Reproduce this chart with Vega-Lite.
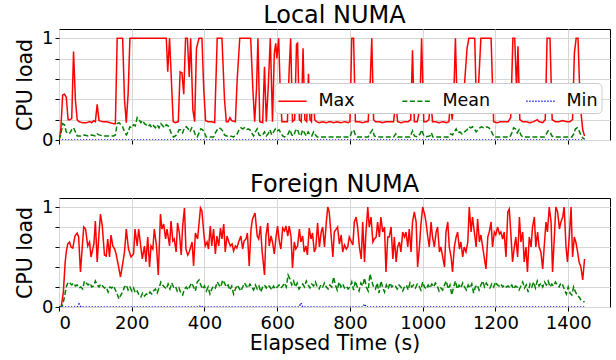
{
"$schema": "https://vega.github.io/schema/vega-lite/v6.json",
"padding": {"left": 15, "top": 3, "right": 5, "bottom": 0},
"config": {
 "font": "DejaVu Sans",
 "view": {"stroke": "#000", "strokeWidth": 1},
 "axis": {"grid": true, "gridColor": "#d6d6d6", "gridWidth": 1, "domain": false, "tickColor": "#000", "tickSize": 4, "labelColor": "#000", "titleColor": "#000", "labelFontSize": 18, "titleFontSize": 20.5, "titleFontWeight": "normal", "labelFont": "DejaVu Sans", "titleFont": "DejaVu Sans"},
 "title": {"fontSize": 24, "fontWeight": "normal", "color": "#000", "font": "DejaVu Sans", "offset": 1}
},
"datasets": {
"L": [
{"s":"Max","t":0,"v":0},{"s":"Max","t":5,"v":0.1},{"s":"Max","t":10,"v":0.44},{"s":"Max","t":15,"v":0.45},{"s":"Max","t":20,"v":0.42},{"s":"Max","t":25,"v":0.2},{"s":"Max","t":30,"v":0.2},{"s":"Max","t":35,"v":0.21},{"s":"Max","t":40,"v":0.87},{"s":"Max","t":45,"v":0.4},{"s":"Max","t":50,"v":0.2},{"s":"Max","t":55,"v":0.18},{"s":"Max","t":65,"v":0.17},{"s":"Max","t":75,"v":0.17},{"s":"Max","t":85,"v":0.18},{"s":"Max","t":90,"v":0.17},{"s":"Max","t":95,"v":0.19},{"s":"Max","t":100,"v":0.18},{"s":"Max","t":105,"v":0.35},{"s":"Max","t":110,"v":0.19},{"s":"Max","t":120,"v":0.18},{"s":"Max","t":130,"v":0.18},{"s":"Max","t":140,"v":0.17},{"s":"Max","t":150,"v":0.16},{"s":"Max","t":155,"v":0.16},{"s":"Max","t":160,"v":1},{"s":"Max","t":175,"v":1},{"s":"Max","t":180,"v":0.4},{"s":"Max","t":185,"v":0.17},{"s":"Max","t":190,"v":0.45},{"s":"Max","t":195,"v":1},{"s":"Max","t":295,"v":1},{"s":"Max","t":299,"v":0.67},{"s":"Max","t":304,"v":1},{"s":"Max","t":314,"v":0.18},{"s":"Max","t":320,"v":0.17},{"s":"Max","t":328,"v":0.18},{"s":"Max","t":333,"v":0.67},{"s":"Max","t":338,"v":0.66},{"s":"Max","t":343,"v":0.45},{"s":"Max","t":348,"v":1},{"s":"Max","t":353,"v":1},{"s":"Max","t":358,"v":0.62},{"s":"Max","t":362,"v":1},{"s":"Max","t":368,"v":0.3},{"s":"Max","t":373,"v":0.18},{"s":"Max","t":378,"v":0.9},{"s":"Max","t":385,"v":1},{"s":"Max","t":393,"v":1},{"s":"Max","t":398,"v":0.5},{"s":"Max","t":403,"v":0.19},{"s":"Max","t":410,"v":0.18},{"s":"Max","t":420,"v":0.18},{"s":"Max","t":428,"v":0.17},{"s":"Max","t":435,"v":1},{"s":"Max","t":448,"v":1},{"s":"Max","t":455,"v":0.4},{"s":"Max","t":460,"v":0.18},{"s":"Max","t":465,"v":0.18},{"s":"Max","t":470,"v":0.22},{"s":"Max","t":475,"v":0.19},{"s":"Max","t":485,"v":0.18},{"s":"Max","t":490,"v":0.6},{"s":"Max","t":497,"v":1},{"s":"Max","t":527,"v":1},{"s":"Max","t":533,"v":0.5},{"s":"Max","t":538,"v":0.18},{"s":"Max","t":543,"v":0.5},{"s":"Max","t":547,"v":1},{"s":"Max","t":552,"v":0.18},{"s":"Max","t":560,"v":0.17},{"s":"Max","t":565,"v":0.72},{"s":"Max","t":570,"v":0.18},{"s":"Max","t":575,"v":0.5},{"s":"Max","t":581,"v":1},{"s":"Max","t":587,"v":0.18},{"s":"Max","t":592,"v":0.85},{"s":"Max","t":596,"v":0.95},{"s":"Max","t":599,"v":0.8},{"s":"Max","t":604,"v":1},{"s":"Max","t":609,"v":0.4},{"s":"Max","t":613,"v":0.18},{"s":"Max","t":620,"v":0.18},{"s":"Max","t":628,"v":0.18},{"s":"Max","t":633,"v":0.7},{"s":"Max","t":637,"v":1},{"s":"Max","t":642,"v":0.18},{"s":"Max","t":648,"v":0.2},{"s":"Max","t":653,"v":0.94},{"s":"Max","t":656,"v":0.95},{"s":"Max","t":661,"v":0.2},{"s":"Max","t":666,"v":0.18},{"s":"Max","t":671,"v":0.9},{"s":"Max","t":676,"v":0.2},{"s":"Max","t":681,"v":0.18},{"s":"Max","t":686,"v":0.65},{"s":"Max","t":690,"v":0.2},{"s":"Max","t":694,"v":0.18},{"s":"Max","t":698,"v":0.55},{"s":"Max","t":703,"v":0.2},{"s":"Max","t":708,"v":0.18},{"s":"Max","t":715,"v":0.17},{"s":"Max","t":725,"v":0.18},{"s":"Max","t":735,"v":0.17},{"s":"Max","t":745,"v":0.18},{"s":"Max","t":755,"v":0.17},{"s":"Max","t":765,"v":0.18},{"s":"Max","t":775,"v":0.17},{"s":"Max","t":785,"v":0.18},{"s":"Max","t":795,"v":0.17},{"s":"Max","t":800,"v":0.18},{"s":"Max","t":805,"v":1},{"s":"Max","t":810,"v":1},{"s":"Max","t":815,"v":0.18},{"s":"Max","t":825,"v":0.18},{"s":"Max","t":835,"v":0.17},{"s":"Max","t":845,"v":0.18},{"s":"Max","t":850,"v":0.18},{"s":"Max","t":855,"v":0.5},{"s":"Max","t":860,"v":1},{"s":"Max","t":865,"v":0.2},{"s":"Max","t":870,"v":0.18},{"s":"Max","t":880,"v":0.18},{"s":"Max","t":890,"v":0.17},{"s":"Max","t":900,"v":0.18},{"s":"Max","t":910,"v":0.18},{"s":"Max","t":920,"v":0.18},{"s":"Max","t":926,"v":0.38},{"s":"Max","t":931,"v":0.18},{"s":"Max","t":940,"v":0.17},{"s":"Max","t":950,"v":0.18},{"s":"Max","t":960,"v":0.18},{"s":"Max","t":967,"v":0.2},{"s":"Max","t":972,"v":0.88},{"s":"Max","t":977,"v":0.18},{"s":"Max","t":985,"v":0.18},{"s":"Max","t":992,"v":0.3},{"s":"Max","t":997,"v":1},{"s":"Max","t":1003,"v":0.18},{"s":"Max","t":1010,"v":0.18},{"s":"Max","t":1017,"v":0.2},{"s":"Max","t":1022,"v":0.4},{"s":"Max","t":1027,"v":0.18},{"s":"Max","t":1035,"v":0.18},{"s":"Max","t":1045,"v":0.17},{"s":"Max","t":1055,"v":0.18},{"s":"Max","t":1065,"v":0.17},{"s":"Max","t":1072,"v":0.18},{"s":"Max","t":1077,"v":0.38},{"s":"Max","t":1081,"v":0.2},{"s":"Max","t":1085,"v":0.37},{"s":"Max","t":1090,"v":1},{"s":"Max","t":1095,"v":0.3},{"s":"Max","t":1100,"v":0.4},{"s":"Max","t":1107,"v":0.5},{"s":"Max","t":1115,"v":0.55},{"s":"Max","t":1122,"v":0.9},{"s":"Max","t":1127,"v":1},{"s":"Max","t":1143,"v":1},{"s":"Max","t":1148,"v":0.3},{"s":"Max","t":1153,"v":0.5},{"s":"Max","t":1160,"v":1},{"s":"Max","t":1188,"v":1},{"s":"Max","t":1195,"v":0.18},{"s":"Max","t":1205,"v":0.17},{"s":"Max","t":1215,"v":0.18},{"s":"Max","t":1225,"v":0.18},{"s":"Max","t":1235,"v":0.18},{"s":"Max","t":1242,"v":0.22},{"s":"Max","t":1248,"v":1},{"s":"Max","t":1253,"v":1},{"s":"Max","t":1258,"v":0.5},{"s":"Max","t":1262,"v":0.92},{"s":"Max","t":1267,"v":0.2},{"s":"Max","t":1275,"v":0.18},{"s":"Max","t":1285,"v":0.18},{"s":"Max","t":1295,"v":0.17},{"s":"Max","t":1305,"v":0.18},{"s":"Max","t":1315,"v":0.2},{"s":"Max","t":1320,"v":0.18},{"s":"Max","t":1330,"v":0.17},{"s":"Max","t":1337,"v":0.2},{"s":"Max","t":1342,"v":1},{"s":"Max","t":1350,"v":1},{"s":"Max","t":1356,"v":0.2},{"s":"Max","t":1365,"v":0.18},{"s":"Max","t":1375,"v":0.18},{"s":"Max","t":1385,"v":0.19},{"s":"Max","t":1395,"v":0.18},{"s":"Max","t":1405,"v":0.18},{"s":"Max","t":1412,"v":0.2},{"s":"Max","t":1417,"v":0.85},{"s":"Max","t":1422,"v":1},{"s":"Max","t":1427,"v":1},{"s":"Max","t":1433,"v":0.35},{"s":"Max","t":1440,"v":0.1},{"s":"Max","t":1445,"v":0.04},
{"s":"Mean","t":0,"v":0},{"s":"Mean","t":5,"v":0.05},{"s":"Mean","t":10,"v":0.16},{"s":"Mean","t":15,"v":0.15},{"s":"Mean","t":20,"v":0.08},{"s":"Mean","t":25,"v":0.06},{"s":"Mean","t":30,"v":0.07},{"s":"Mean","t":35,"v":0.1},{"s":"Mean","t":40,"v":0.12},{"s":"Mean","t":45,"v":0.08},{"s":"Mean","t":50,"v":0.04},{"s":"Mean","t":60,"v":0.04},{"s":"Mean","t":70,"v":0.05},{"s":"Mean","t":80,"v":0.04},{"s":"Mean","t":90,"v":0.05},{"s":"Mean","t":100,"v":0.04},{"s":"Mean","t":105,"v":0.06},{"s":"Mean","t":110,"v":0.05},{"s":"Mean","t":120,"v":0.04},{"s":"Mean","t":130,"v":0.04},{"s":"Mean","t":140,"v":0.04},{"s":"Mean","t":150,"v":0.04},{"s":"Mean","t":155,"v":0.05},{"s":"Mean","t":160,"v":0.16},{"s":"Mean","t":165,"v":0.17},{"s":"Mean","t":170,"v":0.15},{"s":"Mean","t":175,"v":0.13},{"s":"Mean","t":180,"v":0.08},{"s":"Mean","t":185,"v":0.05},{"s":"Mean","t":190,"v":0.08},{"s":"Mean","t":195,"v":0.13},{"s":"Mean","t":200,"v":0.12},{"s":"Mean","t":205,"v":0.15},{"s":"Mean","t":210,"v":0.14},{"s":"Mean","t":215,"v":0.22},{"s":"Mean","t":220,"v":0.2},{"s":"Mean","t":225,"v":0.17},{"s":"Mean","t":230,"v":0.19},{"s":"Mean","t":235,"v":0.16},{"s":"Mean","t":240,"v":0.15},{"s":"Mean","t":245,"v":0.13},{"s":"Mean","t":250,"v":0.15},{"s":"Mean","t":255,"v":0.12},{"s":"Mean","t":260,"v":0.14},{"s":"Mean","t":265,"v":0.12},{"s":"Mean","t":270,"v":0.15},{"s":"Mean","t":275,"v":0.12},{"s":"Mean","t":280,"v":0.16},{"s":"Mean","t":285,"v":0.14},{"s":"Mean","t":290,"v":0.12},{"s":"Mean","t":295,"v":0.15},{"s":"Mean","t":300,"v":0.14},{"s":"Mean","t":305,"v":0.1},{"s":"Mean","t":310,"v":0.05},{"s":"Mean","t":315,"v":0.03},{"s":"Mean","t":320,"v":0.04},{"s":"Mean","t":325,"v":0.06},{"s":"Mean","t":330,"v":0.1},{"s":"Mean","t":335,"v":0.1},{"s":"Mean","t":340,"v":0.07},{"s":"Mean","t":345,"v":0.12},{"s":"Mean","t":350,"v":0.13},{"s":"Mean","t":355,"v":0.11},{"s":"Mean","t":360,"v":0.08},{"s":"Mean","t":365,"v":0.12},{"s":"Mean","t":370,"v":0.1},{"s":"Mean","t":375,"v":0.05},{"s":"Mean","t":380,"v":0.03},{"s":"Mean","t":385,"v":0.07},{"s":"Mean","t":390,"v":0.11},{"s":"Mean","t":395,"v":0.1},{"s":"Mean","t":400,"v":0.07},{"s":"Mean","t":405,"v":0.03},{"s":"Mean","t":415,"v":0.03},{"s":"Mean","t":425,"v":0.03},{"s":"Mean","t":430,"v":0.07},{"s":"Mean","t":435,"v":0.1},{"s":"Mean","t":440,"v":0.12},{"s":"Mean","t":445,"v":0.11},{"s":"Mean","t":450,"v":0.09},{"s":"Mean","t":455,"v":0.05},{"s":"Mean","t":460,"v":0.04},{"s":"Mean","t":470,"v":0.04},{"s":"Mean","t":480,"v":0.03},{"s":"Mean","t":490,"v":0.06},{"s":"Mean","t":495,"v":0.1},{"s":"Mean","t":500,"v":0.12},{"s":"Mean","t":505,"v":0.11},{"s":"Mean","t":510,"v":0.12},{"s":"Mean","t":515,"v":0.1},{"s":"Mean","t":520,"v":0.11},{"s":"Mean","t":525,"v":0.1},{"s":"Mean","t":530,"v":0.07},{"s":"Mean","t":535,"v":0.04},{"s":"Mean","t":540,"v":0.08},{"s":"Mean","t":545,"v":0.11},{"s":"Mean","t":550,"v":0.05},{"s":"Mean","t":555,"v":0.04},{"s":"Mean","t":560,"v":0.05},{"s":"Mean","t":565,"v":0.08},{"s":"Mean","t":570,"v":0.04},{"s":"Mean","t":575,"v":0.06},{"s":"Mean","t":580,"v":0.1},{"s":"Mean","t":585,"v":0.05},{"s":"Mean","t":590,"v":0.08},{"s":"Mean","t":595,"v":0.11},{"s":"Mean","t":600,"v":0.09},{"s":"Mean","t":605,"v":0.1},{"s":"Mean","t":610,"v":0.07},{"s":"Mean","t":615,"v":0.04},{"s":"Mean","t":620,"v":0.03},{"s":"Mean","t":625,"v":0.04},{"s":"Mean","t":630,"v":0.06},{"s":"Mean","t":635,"v":0.1},{"s":"Mean","t":640,"v":0.05},{"s":"Mean","t":645,"v":0.04},{"s":"Mean","t":650,"v":0.09},{"s":"Mean","t":655,"v":0.11},{"s":"Mean","t":660,"v":0.06},{"s":"Mean","t":665,"v":0.04},{"s":"Mean","t":670,"v":0.1},{"s":"Mean","t":675,"v":0.07},{"s":"Mean","t":680,"v":0.04},{"s":"Mean","t":685,"v":0.08},{"s":"Mean","t":690,"v":0.05},{"s":"Mean","t":695,"v":0.04},{"s":"Mean","t":700,"v":0.08},{"s":"Mean","t":705,"v":0.05},{"s":"Mean","t":710,"v":0.03},{"s":"Mean","t":760,"v":0.03},{"s":"Mean","t":800,"v":0.03},{"s":"Mean","t":805,"v":0.08},{"s":"Mean","t":810,"v":0.1},{"s":"Mean","t":815,"v":0.05},{"s":"Mean","t":820,"v":0.03},{"s":"Mean","t":850,"v":0.03},{"s":"Mean","t":858,"v":0.08},{"s":"Mean","t":862,"v":0.1},{"s":"Mean","t":867,"v":0.04},{"s":"Mean","t":875,"v":0.03},{"s":"Mean","t":920,"v":0.03},{"s":"Mean","t":926,"v":0.06},{"s":"Mean","t":931,"v":0.03},{"s":"Mean","t":965,"v":0.03},{"s":"Mean","t":972,"v":0.09},{"s":"Mean","t":977,"v":0.04},{"s":"Mean","t":985,"v":0.03},{"s":"Mean","t":993,"v":0.06},{"s":"Mean","t":997,"v":0.1},{"s":"Mean","t":1002,"v":0.05},{"s":"Mean","t":1008,"v":0.03},{"s":"Mean","t":1020,"v":0.04},{"s":"Mean","t":1024,"v":0.07},{"s":"Mean","t":1028,"v":0.03},{"s":"Mean","t":1070,"v":0.03},{"s":"Mean","t":1077,"v":0.06},{"s":"Mean","t":1082,"v":0.05},{"s":"Mean","t":1087,"v":0.08},{"s":"Mean","t":1092,"v":0.11},{"s":"Mean","t":1097,"v":0.07},{"s":"Mean","t":1102,"v":0.08},{"s":"Mean","t":1108,"v":0.06},{"s":"Mean","t":1115,"v":0.08},{"s":"Mean","t":1122,"v":0.1},{"s":"Mean","t":1127,"v":0.13},{"s":"Mean","t":1132,"v":0.12},{"s":"Mean","t":1137,"v":0.13},{"s":"Mean","t":1142,"v":0.11},{"s":"Mean","t":1147,"v":0.08},{"s":"Mean","t":1152,"v":0.1},{"s":"Mean","t":1157,"v":0.12},{"s":"Mean","t":1162,"v":0.13},{"s":"Mean","t":1167,"v":0.12},{"s":"Mean","t":1172,"v":0.12},{"s":"Mean","t":1177,"v":0.13},{"s":"Mean","t":1182,"v":0.12},{"s":"Mean","t":1187,"v":0.1},{"s":"Mean","t":1192,"v":0.06},{"s":"Mean","t":1197,"v":0.03},{"s":"Mean","t":1240,"v":0.03},{"s":"Mean","t":1245,"v":0.07},{"s":"Mean","t":1250,"v":0.12},{"s":"Mean","t":1255,"v":0.11},{"s":"Mean","t":1260,"v":0.07},{"s":"Mean","t":1265,"v":0.1},{"s":"Mean","t":1270,"v":0.05},{"s":"Mean","t":1275,"v":0.03},{"s":"Mean","t":1335,"v":0.03},{"s":"Mean","t":1340,"v":0.06},{"s":"Mean","t":1345,"v":0.09},{"s":"Mean","t":1350,"v":0.08},{"s":"Mean","t":1355,"v":0.04},{"s":"Mean","t":1360,"v":0.03},{"s":"Mean","t":1410,"v":0.03},{"s":"Mean","t":1415,"v":0.06},{"s":"Mean","t":1420,"v":0.11},{"s":"Mean","t":1425,"v":0.12},{"s":"Mean","t":1430,"v":0.09},{"s":"Mean","t":1435,"v":0.05},{"s":"Mean","t":1440,"v":0.02},{"s":"Mean","t":1445,"v":0.01},
{"s":"Min","t":0,"v":0},{"s":"Min","t":1445,"v":0}
],
"F": [
{"s":"Max","t":0,"v":0},{"s":"Max","t":6,"v":0},{"s":"Max","t":12,"v":0.15},{"s":"Max","t":17,"v":0.45},{"s":"Max","t":20,"v":0.55},{"s":"Max","t":24,"v":0.63},{"s":"Max","t":29,"v":0.65},{"s":"Max","t":33,"v":0.6},{"s":"Max","t":38,"v":0.59},{"s":"Max","t":44,"v":0.71},{"s":"Max","t":50,"v":0.74},{"s":"Max","t":54,"v":0.7},{"s":"Max","t":59,"v":0.35},{"s":"Max","t":64,"v":0.6},{"s":"Max","t":68,"v":0.8},{"s":"Max","t":73,"v":0.78},{"s":"Max","t":79,"v":0.61},{"s":"Max","t":84,"v":0.65},{"s":"Max","t":88,"v":0.5},{"s":"Max","t":96,"v":0.63},{"s":"Max","t":100,"v":0.86},{"s":"Max","t":105,"v":0.45},{"s":"Max","t":110,"v":0.74},{"s":"Max","t":114,"v":0.93},{"s":"Max","t":119,"v":0.81},{"s":"Max","t":125,"v":0.52},{"s":"Max","t":130,"v":0.51},{"s":"Max","t":134,"v":0.68},{"s":"Max","t":139,"v":0.5},{"s":"Max","t":143,"v":0.72},{"s":"Max","t":148,"v":0.61},{"s":"Max","t":153,"v":0.58},{"s":"Max","t":157,"v":0.53},{"s":"Max","t":164,"v":0.4},{"s":"Max","t":169,"v":0.3},{"s":"Max","t":175,"v":0.43},{"s":"Max","t":180,"v":0.55},{"s":"Max","t":185,"v":0.78},{"s":"Max","t":191,"v":0.58},{"s":"Max","t":198,"v":0.5},{"s":"Max","t":205,"v":0.53},{"s":"Max","t":209,"v":0.78},{"s":"Max","t":215,"v":0.61},{"s":"Max","t":219,"v":0.78},{"s":"Max","t":224,"v":0.63},{"s":"Max","t":229,"v":0.48},{"s":"Max","t":235,"v":0.61},{"s":"Max","t":239,"v":0.45},{"s":"Max","t":244,"v":0.7},{"s":"Max","t":249,"v":0.4},{"s":"Max","t":253,"v":0.61},{"s":"Max","t":258,"v":0.58},{"s":"Max","t":262,"v":0.78},{"s":"Max","t":268,"v":0.61},{"s":"Max","t":273,"v":0.32},{"s":"Max","t":279,"v":0.93},{"s":"Max","t":283,"v":0.78},{"s":"Max","t":288,"v":0.83},{"s":"Max","t":293,"v":0.68},{"s":"Max","t":297,"v":0.78},{"s":"Max","t":304,"v":0.61},{"s":"Max","t":308,"v":0.86},{"s":"Max","t":313,"v":0.66},{"s":"Max","t":317,"v":0.68},{"s":"Max","t":322,"v":0.55},{"s":"Max","t":326,"v":0.84},{"s":"Max","t":331,"v":0.74},{"s":"Max","t":336,"v":0.52},{"s":"Max","t":340,"v":0.81},{"s":"Max","t":345,"v":0.99},{"s":"Max","t":349,"v":0.58},{"s":"Max","t":354,"v":0.52},{"s":"Max","t":358,"v":0.55},{"s":"Max","t":362,"v":0.6},{"s":"Max","t":366,"v":0.65},{"s":"Max","t":370,"v":0.41},{"s":"Max","t":375,"v":0.74},{"s":"Max","t":381,"v":0.68},{"s":"Max","t":389,"v":0.99},{"s":"Max","t":393,"v":0.96},{"s":"Max","t":398,"v":0.74},{"s":"Max","t":402,"v":0.61},{"s":"Max","t":407,"v":0.65},{"s":"Max","t":411,"v":0.58},{"s":"Max","t":416,"v":0.81},{"s":"Max","t":420,"v":0.61},{"s":"Max","t":425,"v":0.78},{"s":"Max","t":430,"v":0.53},{"s":"Max","t":434,"v":0.71},{"s":"Max","t":439,"v":0.61},{"s":"Max","t":444,"v":0.79},{"s":"Max","t":448,"v":0.68},{"s":"Max","t":453,"v":0.83},{"s":"Max","t":457,"v":0.55},{"s":"Max","t":462,"v":0.71},{"s":"Max","t":467,"v":0.65},{"s":"Max","t":471,"v":0.61},{"s":"Max","t":476,"v":0.63},{"s":"Max","t":480,"v":0.56},{"s":"Max","t":485,"v":0.61},{"s":"Max","t":489,"v":0.59},{"s":"Max","t":494,"v":0.65},{"s":"Max","t":500,"v":0.71},{"s":"Max","t":505,"v":0.58},{"s":"Max","t":509,"v":0.66},{"s":"Max","t":514,"v":0.68},{"s":"Max","t":518,"v":0.74},{"s":"Max","t":523,"v":0.41},{"s":"Max","t":528,"v":0.78},{"s":"Max","t":532,"v":0.88},{"s":"Max","t":539,"v":0.94},{"s":"Max","t":545,"v":0.71},{"s":"Max","t":549,"v":0.68},{"s":"Max","t":554,"v":0.81},{"s":"Max","t":558,"v":0.58},{"s":"Max","t":565,"v":0.32},{"s":"Max","t":569,"v":0.71},{"s":"Max","t":574,"v":0.84},{"s":"Max","t":578,"v":0.61},{"s":"Max","t":583,"v":0.71},{"s":"Max","t":587,"v":0.65},{"s":"Max","t":592,"v":0.53},{"s":"Max","t":597,"v":0.71},{"s":"Max","t":601,"v":0.81},{"s":"Max","t":606,"v":0.65},{"s":"Max","t":610,"v":0.58},{"s":"Max","t":615,"v":0.79},{"s":"Max","t":620,"v":0.76},{"s":"Max","t":624,"v":0.81},{"s":"Max","t":629,"v":0.71},{"s":"Max","t":633,"v":0.81},{"s":"Max","t":638,"v":0.7},{"s":"Max","t":642,"v":0.39},{"s":"Max","t":647,"v":0.65},{"s":"Max","t":651,"v":0.58},{"s":"Max","t":656,"v":0.61},{"s":"Max","t":661,"v":0.78},{"s":"Max","t":665,"v":0.65},{"s":"Max","t":670,"v":0.71},{"s":"Max","t":674,"v":0.55},{"s":"Max","t":679,"v":0.61},{"s":"Max","t":683,"v":0.52},{"s":"Max","t":688,"v":0.79},{"s":"Max","t":693,"v":0.68},{"s":"Max","t":697,"v":0.74},{"s":"Max","t":702,"v":0.55},{"s":"Max","t":706,"v":0.59},{"s":"Max","t":711,"v":0.84},{"s":"Max","t":716,"v":0.6},{"s":"Max","t":721,"v":0.75},{"s":"Max","t":725,"v":0.8},{"s":"Max","t":730,"v":0.6},{"s":"Max","t":735,"v":0.85},{"s":"Max","t":739,"v":1},{"s":"Max","t":743,"v":0.95},{"s":"Max","t":753,"v":0.5},{"s":"Max","t":757,"v":0.75},{"s":"Max","t":766,"v":0.8},{"s":"Max","t":771,"v":0.63},{"s":"Max","t":776,"v":0.72},{"s":"Max","t":780,"v":0.55},{"s":"Max","t":785,"v":0.62},{"s":"Max","t":790,"v":0.58},{"s":"Max","t":794,"v":0.6},{"s":"Max","t":798,"v":0.7},{"s":"Max","t":803,"v":0.66},{"s":"Max","t":808,"v":0.62},{"s":"Max","t":812,"v":0.85},{"s":"Max","t":817,"v":0.9},{"s":"Max","t":821,"v":0.8},{"s":"Max","t":826,"v":0.6},{"s":"Max","t":831,"v":0.48},{"s":"Max","t":835,"v":0.85},{"s":"Max","t":840,"v":0.45},{"s":"Max","t":844,"v":0.75},{"s":"Max","t":849,"v":1},{"s":"Max","t":853,"v":0.8},{"s":"Max","t":858,"v":0.9},{"s":"Max","t":863,"v":0.65},{"s":"Max","t":867,"v":0.68},{"s":"Max","t":872,"v":0.7},{"s":"Max","t":876,"v":0.85},{"s":"Max","t":881,"v":0.7},{"s":"Max","t":885,"v":0.9},{"s":"Max","t":890,"v":0.75},{"s":"Max","t":895,"v":0.8},{"s":"Max","t":899,"v":0.35},{"s":"Max","t":904,"v":0.7},{"s":"Max","t":908,"v":0.7},{"s":"Max","t":913,"v":0.8},{"s":"Max","t":918,"v":0.48},{"s":"Max","t":922,"v":0.7},{"s":"Max","t":927,"v":0.45},{"s":"Max","t":931,"v":0.6},{"s":"Max","t":936,"v":0.65},{"s":"Max","t":940,"v":0.55},{"s":"Max","t":945,"v":0.75},{"s":"Max","t":950,"v":0.7},{"s":"Max","t":954,"v":0.75},{"s":"Max","t":959,"v":0.6},{"s":"Max","t":963,"v":0.78},{"s":"Max","t":968,"v":0.55},{"s":"Max","t":972,"v":0.85},{"s":"Max","t":977,"v":0.95},{"s":"Max","t":982,"v":0.85},{"s":"Max","t":986,"v":0.4},{"s":"Max","t":991,"v":0.6},{"s":"Max","t":995,"v":0.82},{"s":"Max","t":1000,"v":1},{"s":"Max","t":1005,"v":0.93},{"s":"Max","t":1009,"v":0.85},{"s":"Max","t":1014,"v":0.7},{"s":"Max","t":1018,"v":0.6},{"s":"Max","t":1023,"v":0.85},{"s":"Max","t":1027,"v":0.7},{"s":"Max","t":1032,"v":0.6},{"s":"Max","t":1037,"v":0.75},{"s":"Max","t":1041,"v":0.8},{"s":"Max","t":1046,"v":0.55},{"s":"Max","t":1050,"v":0.6},{"s":"Max","t":1055,"v":0.5},{"s":"Max","t":1060,"v":0.4},{"s":"Max","t":1064,"v":0.75},{"s":"Max","t":1069,"v":0.85},{"s":"Max","t":1073,"v":0.6},{"s":"Max","t":1078,"v":0.5},{"s":"Max","t":1082,"v":0.35},{"s":"Max","t":1087,"v":0.6},{"s":"Max","t":1092,"v":0.7},{"s":"Max","t":1096,"v":0.75},{"s":"Max","t":1101,"v":0.58},{"s":"Max","t":1105,"v":0.65},{"s":"Max","t":1110,"v":0.5},{"s":"Max","t":1114,"v":0.6},{"s":"Max","t":1119,"v":0.55},{"s":"Max","t":1124,"v":0.65},{"s":"Max","t":1128,"v":1},{"s":"Max","t":1133,"v":0.75},{"s":"Max","t":1137,"v":0.9},{"s":"Max","t":1142,"v":0.75},{"s":"Max","t":1147,"v":0.6},{"s":"Max","t":1151,"v":0.88},{"s":"Max","t":1156,"v":0.65},{"s":"Max","t":1160,"v":0.72},{"s":"Max","t":1165,"v":0.6},{"s":"Max","t":1169,"v":0.5},{"s":"Max","t":1174,"v":0.38},{"s":"Max","t":1179,"v":0.7},{"s":"Max","t":1183,"v":0.75},{"s":"Max","t":1188,"v":0.85},{"s":"Max","t":1192,"v":0.6},{"s":"Max","t":1197,"v":0.75},{"s":"Max","t":1201,"v":0.72},{"s":"Max","t":1206,"v":0.8},{"s":"Max","t":1211,"v":0.73},{"s":"Max","t":1215,"v":0.75},{"s":"Max","t":1220,"v":0.68},{"s":"Max","t":1224,"v":0.75},{"s":"Max","t":1229,"v":0.5},{"s":"Max","t":1234,"v":0.95},{"s":"Max","t":1238,"v":0.98},{"s":"Max","t":1243,"v":0.7},{"s":"Max","t":1247,"v":0.45},{"s":"Max","t":1252,"v":0.6},{"s":"Max","t":1256,"v":0.7},{"s":"Max","t":1261,"v":0.5},{"s":"Max","t":1266,"v":0.9},{"s":"Max","t":1270,"v":0.65},{"s":"Max","t":1275,"v":0.75},{"s":"Max","t":1279,"v":0.45},{"s":"Max","t":1284,"v":0.6},{"s":"Max","t":1288,"v":0.35},{"s":"Max","t":1293,"v":0.7},{"s":"Max","t":1298,"v":0.6},{"s":"Max","t":1302,"v":0.8},{"s":"Max","t":1307,"v":0.9},{"s":"Max","t":1311,"v":0.6},{"s":"Max","t":1316,"v":0.75},{"s":"Max","t":1320,"v":0.6},{"s":"Max","t":1325,"v":0.55},{"s":"Max","t":1330,"v":0.38},{"s":"Max","t":1334,"v":0.6},{"s":"Max","t":1339,"v":0.85},{"s":"Max","t":1343,"v":0.75},{"s":"Max","t":1348,"v":1},{"s":"Max","t":1353,"v":0.85},{"s":"Max","t":1357,"v":0.35},{"s":"Max","t":1362,"v":0.7},{"s":"Max","t":1366,"v":1},{"s":"Max","t":1371,"v":0.95},{"s":"Max","t":1376,"v":0.78},{"s":"Max","t":1380,"v":0.85},{"s":"Max","t":1385,"v":0.9},{"s":"Max","t":1389,"v":1},{"s":"Max","t":1394,"v":0.6},{"s":"Max","t":1398,"v":0.45},{"s":"Max","t":1403,"v":0.7},{"s":"Max","t":1408,"v":1},{"s":"Max","t":1412,"v":0.5},{"s":"Max","t":1417,"v":0.7},{"s":"Max","t":1421,"v":0.65},{"s":"Max","t":1426,"v":0.55},{"s":"Max","t":1430,"v":0.45},{"s":"Max","t":1435,"v":0.4},{"s":"Max","t":1440,"v":0.27},{"s":"Max","t":1445,"v":0.48},
{"s":"Mean","t":0,"v":0},{"s":"Mean","t":5,"v":0},{"s":"Mean","t":10,"v":0.02},{"s":"Mean","t":15,"v":0.1},{"s":"Mean","t":20,"v":0.2},{"s":"Mean","t":25,"v":0.25},{"s":"Mean","t":30,"v":0.24},{"s":"Mean","t":35,"v":0.22},{"s":"Mean","t":40,"v":0.24},{"s":"Mean","t":45,"v":0.21},{"s":"Mean","t":50,"v":0.22},{"s":"Mean","t":55,"v":0.19},{"s":"Mean","t":60,"v":0.2},{"s":"Mean","t":65,"v":0.18},{"s":"Mean","t":70,"v":0.26},{"s":"Mean","t":75,"v":0.24},{"s":"Mean","t":80,"v":0.22},{"s":"Mean","t":85,"v":0.24},{"s":"Mean","t":90,"v":0.2},{"s":"Mean","t":95,"v":0.21},{"s":"Mean","t":100,"v":0.26},{"s":"Mean","t":105,"v":0.22},{"s":"Mean","t":110,"v":0.2},{"s":"Mean","t":115,"v":0.23},{"s":"Mean","t":120,"v":0.21},{"s":"Mean","t":125,"v":0.19},{"s":"Mean","t":130,"v":0.2},{"s":"Mean","t":135,"v":0.15},{"s":"Mean","t":140,"v":0.2},{"s":"Mean","t":145,"v":0.19},{"s":"Mean","t":150,"v":0.21},{"s":"Mean","t":155,"v":0.17},{"s":"Mean","t":160,"v":0.13},{"s":"Mean","t":165,"v":0.08},{"s":"Mean","t":170,"v":0.12},{"s":"Mean","t":175,"v":0.15},{"s":"Mean","t":180,"v":0.2},{"s":"Mean","t":185,"v":0.22},{"s":"Mean","t":190,"v":0.17},{"s":"Mean","t":195,"v":0.2},{"s":"Mean","t":200,"v":0.16},{"s":"Mean","t":205,"v":0.19},{"s":"Mean","t":210,"v":0.14},{"s":"Mean","t":215,"v":0.16},{"s":"Mean","t":220,"v":0.12},{"s":"Mean","t":225,"v":0.1},{"s":"Mean","t":230,"v":0.14},{"s":"Mean","t":235,"v":0.11},{"s":"Mean","t":240,"v":0.13},{"s":"Mean","t":245,"v":0.12},{"s":"Mean","t":250,"v":0.15},{"s":"Mean","t":255,"v":0.13},{"s":"Mean","t":260,"v":0.16},{"s":"Mean","t":265,"v":0.18},{"s":"Mean","t":270,"v":0.14},{"s":"Mean","t":275,"v":0.19},{"s":"Mean","t":280,"v":0.25},{"s":"Mean","t":285,"v":0.22},{"s":"Mean","t":290,"v":0.2},{"s":"Mean","t":295,"v":0.18},{"s":"Mean","t":300,"v":0.23},{"s":"Mean","t":305,"v":0.18},{"s":"Mean","t":310,"v":0.24},{"s":"Mean","t":315,"v":0.2},{"s":"Mean","t":320,"v":0.21},{"s":"Mean","t":325,"v":0.16},{"s":"Mean","t":330,"v":0.19},{"s":"Mean","t":335,"v":0.14},{"s":"Mean","t":340,"v":0.12},{"s":"Mean","t":345,"v":0.18},{"s":"Mean","t":350,"v":0.2},{"s":"Mean","t":355,"v":0.17},{"s":"Mean","t":360,"v":0.21},{"s":"Mean","t":365,"v":0.24},{"s":"Mean","t":370,"v":0.2},{"s":"Mean","t":375,"v":0.16},{"s":"Mean","t":380,"v":0.25},{"s":"Mean","t":385,"v":0.27},{"s":"Mean","t":390,"v":0.22},{"s":"Mean","t":395,"v":0.18},{"s":"Mean","t":400,"v":0.21},{"s":"Mean","t":405,"v":0.16},{"s":"Mean","t":410,"v":0.2},{"s":"Mean","t":415,"v":0.13},{"s":"Mean","t":420,"v":0.18},{"s":"Mean","t":425,"v":0.21},{"s":"Mean","t":430,"v":0.19},{"s":"Mean","t":435,"v":0.25},{"s":"Mean","t":440,"v":0.22},{"s":"Mean","t":445,"v":0.2},{"s":"Mean","t":450,"v":0.27},{"s":"Mean","t":455,"v":0.24},{"s":"Mean","t":460,"v":0.2},{"s":"Mean","t":465,"v":0.22},{"s":"Mean","t":470,"v":0.17},{"s":"Mean","t":475,"v":0.21},{"s":"Mean","t":480,"v":0.13},{"s":"Mean","t":485,"v":0.18},{"s":"Mean","t":490,"v":0.22},{"s":"Mean","t":495,"v":0.19},{"s":"Mean","t":500,"v":0.16},{"s":"Mean","t":505,"v":0.2},{"s":"Mean","t":510,"v":0.24},{"s":"Mean","t":515,"v":0.21},{"s":"Mean","t":520,"v":0.19},{"s":"Mean","t":525,"v":0.23},{"s":"Mean","t":530,"v":0.2},{"s":"Mean","t":535,"v":0.17},{"s":"Mean","t":540,"v":0.22},{"s":"Mean","t":545,"v":0.18},{"s":"Mean","t":550,"v":0.21},{"s":"Mean","t":555,"v":0.15},{"s":"Mean","t":560,"v":0.2},{"s":"Mean","t":565,"v":0.22},{"s":"Mean","t":570,"v":0.19},{"s":"Mean","t":575,"v":0.22},{"s":"Mean","t":580,"v":0.2},{"s":"Mean","t":585,"v":0.17},{"s":"Mean","t":590,"v":0.21},{"s":"Mean","t":595,"v":0.18},{"s":"Mean","t":600,"v":0.2},{"s":"Mean","t":605,"v":0.22},{"s":"Mean","t":610,"v":0.19},{"s":"Mean","t":615,"v":0.21},{"s":"Mean","t":620,"v":0.24},{"s":"Mean","t":625,"v":0.2},{"s":"Mean","t":630,"v":0.32},{"s":"Mean","t":635,"v":0.28},{"s":"Mean","t":640,"v":0.22},{"s":"Mean","t":645,"v":0.26},{"s":"Mean","t":650,"v":0.2},{"s":"Mean","t":655,"v":0.24},{"s":"Mean","t":660,"v":0.18},{"s":"Mean","t":665,"v":0.21},{"s":"Mean","t":670,"v":0.23},{"s":"Mean","t":675,"v":0.2},{"s":"Mean","t":680,"v":0.26},{"s":"Mean","t":685,"v":0.22},{"s":"Mean","t":690,"v":0.19},{"s":"Mean","t":695,"v":0.23},{"s":"Mean","t":700,"v":0.21},{"s":"Mean","t":705,"v":0.25},{"s":"Mean","t":710,"v":0.2},{"s":"Mean","t":715,"v":0.18},{"s":"Mean","t":720,"v":0.22},{"s":"Mean","t":725,"v":0.2},{"s":"Mean","t":730,"v":0.24},{"s":"Mean","t":735,"v":0.2},{"s":"Mean","t":740,"v":0.18},{"s":"Mean","t":745,"v":0.22},{"s":"Mean","t":750,"v":0.2},{"s":"Mean","t":755,"v":0.3},{"s":"Mean","t":760,"v":0.22},{"s":"Mean","t":765,"v":0.17},{"s":"Mean","t":770,"v":0.25},{"s":"Mean","t":775,"v":0.2},{"s":"Mean","t":780,"v":0.23},{"s":"Mean","t":785,"v":0.19},{"s":"Mean","t":790,"v":0.21},{"s":"Mean","t":795,"v":0.18},{"s":"Mean","t":800,"v":0.2},{"s":"Mean","t":805,"v":0.25},{"s":"Mean","t":810,"v":0.17},{"s":"Mean","t":815,"v":0.26},{"s":"Mean","t":820,"v":0.2},{"s":"Mean","t":825,"v":0.16},{"s":"Mean","t":830,"v":0.24},{"s":"Mean","t":835,"v":0.21},{"s":"Mean","t":840,"v":0.29},{"s":"Mean","t":845,"v":0.2},{"s":"Mean","t":850,"v":0.16},{"s":"Mean","t":855,"v":0.33},{"s":"Mean","t":860,"v":0.26},{"s":"Mean","t":865,"v":0.2},{"s":"Mean","t":870,"v":0.18},{"s":"Mean","t":875,"v":0.24},{"s":"Mean","t":880,"v":0.14},{"s":"Mean","t":885,"v":0.26},{"s":"Mean","t":890,"v":0.2},{"s":"Mean","t":895,"v":0.15},{"s":"Mean","t":900,"v":0.22},{"s":"Mean","t":905,"v":0.18},{"s":"Mean","t":910,"v":0.24},{"s":"Mean","t":915,"v":0.2},{"s":"Mean","t":920,"v":0.22},{"s":"Mean","t":925,"v":0.21},{"s":"Mean","t":930,"v":0.18},{"s":"Mean","t":935,"v":0.22},{"s":"Mean","t":940,"v":0.2},{"s":"Mean","t":945,"v":0.16},{"s":"Mean","t":950,"v":0.2},{"s":"Mean","t":955,"v":0.22},{"s":"Mean","t":960,"v":0.17},{"s":"Mean","t":965,"v":0.24},{"s":"Mean","t":970,"v":0.2},{"s":"Mean","t":975,"v":0.22},{"s":"Mean","t":980,"v":0.19},{"s":"Mean","t":985,"v":0.23},{"s":"Mean","t":990,"v":0.21},{"s":"Mean","t":995,"v":0.17},{"s":"Mean","t":1000,"v":0.25},{"s":"Mean","t":1005,"v":0.2},{"s":"Mean","t":1010,"v":0.18},{"s":"Mean","t":1015,"v":0.22},{"s":"Mean","t":1020,"v":0.19},{"s":"Mean","t":1025,"v":0.23},{"s":"Mean","t":1030,"v":0.2},{"s":"Mean","t":1035,"v":0.24},{"s":"Mean","t":1040,"v":0.21},{"s":"Mean","t":1045,"v":0.16},{"s":"Mean","t":1050,"v":0.19},{"s":"Mean","t":1055,"v":0.17},{"s":"Mean","t":1060,"v":0.22},{"s":"Mean","t":1065,"v":0.26},{"s":"Mean","t":1070,"v":0.18},{"s":"Mean","t":1075,"v":0.22},{"s":"Mean","t":1080,"v":0.12},{"s":"Mean","t":1085,"v":0.2},{"s":"Mean","t":1090,"v":0.26},{"s":"Mean","t":1095,"v":0.18},{"s":"Mean","t":1100,"v":0.22},{"s":"Mean","t":1105,"v":0.19},{"s":"Mean","t":1110,"v":0.24},{"s":"Mean","t":1115,"v":0.2},{"s":"Mean","t":1120,"v":0.17},{"s":"Mean","t":1125,"v":0.22},{"s":"Mean","t":1130,"v":0.19},{"s":"Mean","t":1135,"v":0.23},{"s":"Mean","t":1140,"v":0.14},{"s":"Mean","t":1145,"v":0.2},{"s":"Mean","t":1150,"v":0.22},{"s":"Mean","t":1155,"v":0.17},{"s":"Mean","t":1160,"v":0.22},{"s":"Mean","t":1165,"v":0.26},{"s":"Mean","t":1170,"v":0.2},{"s":"Mean","t":1175,"v":0.24},{"s":"Mean","t":1180,"v":0.21},{"s":"Mean","t":1185,"v":0.19},{"s":"Mean","t":1190,"v":0.23},{"s":"Mean","t":1195,"v":0.2},{"s":"Mean","t":1200,"v":0.25},{"s":"Mean","t":1205,"v":0.22},{"s":"Mean","t":1210,"v":0.21},{"s":"Mean","t":1215,"v":0.23},{"s":"Mean","t":1220,"v":0.2},{"s":"Mean","t":1225,"v":0.22},{"s":"Mean","t":1230,"v":0.2},{"s":"Mean","t":1235,"v":0.21},{"s":"Mean","t":1240,"v":0.19},{"s":"Mean","t":1245,"v":0.22},{"s":"Mean","t":1250,"v":0.18},{"s":"Mean","t":1255,"v":0.21},{"s":"Mean","t":1260,"v":0.2},{"s":"Mean","t":1265,"v":0.17},{"s":"Mean","t":1270,"v":0.21},{"s":"Mean","t":1275,"v":0.25},{"s":"Mean","t":1280,"v":0.19},{"s":"Mean","t":1285,"v":0.22},{"s":"Mean","t":1290,"v":0.15},{"s":"Mean","t":1295,"v":0.23},{"s":"Mean","t":1300,"v":0.2},{"s":"Mean","t":1305,"v":0.25},{"s":"Mean","t":1310,"v":0.19},{"s":"Mean","t":1315,"v":0.26},{"s":"Mean","t":1320,"v":0.21},{"s":"Mean","t":1325,"v":0.24},{"s":"Mean","t":1330,"v":0.2},{"s":"Mean","t":1335,"v":0.25},{"s":"Mean","t":1340,"v":0.22},{"s":"Mean","t":1345,"v":0.26},{"s":"Mean","t":1350,"v":0.2},{"s":"Mean","t":1355,"v":0.23},{"s":"Mean","t":1360,"v":0.21},{"s":"Mean","t":1365,"v":0.25},{"s":"Mean","t":1370,"v":0.22},{"s":"Mean","t":1375,"v":0.2},{"s":"Mean","t":1380,"v":0.24},{"s":"Mean","t":1385,"v":0.22},{"s":"Mean","t":1390,"v":0.17},{"s":"Mean","t":1395,"v":0.13},{"s":"Mean","t":1400,"v":0.2},{"s":"Mean","t":1405,"v":0.14},{"s":"Mean","t":1410,"v":0.12},{"s":"Mean","t":1415,"v":0.2},{"s":"Mean","t":1420,"v":0.15},{"s":"Mean","t":1425,"v":0.12},{"s":"Mean","t":1430,"v":0.1},{"s":"Mean","t":1435,"v":0.07},{"s":"Mean","t":1440,"v":0.06},{"s":"Mean","t":1445,"v":0.05},
{"s":"Min","t":0,"v":0},{"s":"Min","t":50,"v":0},{"s":"Min","t":55,"v":0.03},{"s":"Min","t":60,"v":0},{"s":"Min","t":385,"v":0},{"s":"Min","t":390,"v":0.015},{"s":"Min","t":395,"v":0},{"s":"Min","t":660,"v":0},{"s":"Min","t":665,"v":0.04},{"s":"Min","t":670,"v":0},{"s":"Min","t":835,"v":0},{"s":"Min","t":840,"v":0.03},{"s":"Min","t":845,"v":0},{"s":"Min","t":1445,"v":0}
]
},
"vconcat": [
 {
  "width": 551, "height": 111,
  "title": {"text": "Local NUMA"},
  "data": {"name": "L"},
  "mark": {"type": "line", "strokeWidth": 1.5, "clip": true},
  "encoding": {
   "x": {"field": "t", "type": "quantitative", "scale": {"domain": [0, 1515], "nice": false, "zero": false}, "axis": {"values": [0,200,400,600,800,1000,1200,1400], "labels": false, "title": null}},
   "y": {"field": "v", "type": "quantitative", "scale": {"domain": [0, 1.09], "nice": false}, "axis": {"values": [0,0.2,0.4,0.6,0.8,1], "labelExpr": "datum.value == 0 ? '0' : (datum.value == 1 ? '1' : '')", "title": "CPU load", "titlePadding": 6}},
   "color": {"field": "s", "type": "nominal", "scale": {"domain": ["Max","Mean","Min"], "range": ["#ff0000","#008000","#0000ff"]},
     "legend": {"orient": "none", "legendX": 215.5, "legendY": 54, "direction": "horizontal", "columns": 3, "title": null, "symbolType": "stroke", "symbolSize": 800, "symbolStrokeWidth": 1.5, "labelFontSize": 17.5, "labelColor": "#000", "labelOffset": 11, "columnPadding": 32, "padding": 3, "fillColor": "#ffffff", "strokeColor": "#cccccc", "cornerRadius": 4, "gridAlign": "all"}},
   "strokeDash": {"field": "s", "type": "nominal", "scale": {"domain": ["Max","Mean","Min"], "range": [[1,0],[5,2.5],[1.2,1.8]]},
     "legend": {"orient": "none", "legendX": 215.5, "legendY": 54, "direction": "horizontal", "columns": 3, "title": null, "symbolType": "stroke", "symbolSize": 800, "symbolStrokeWidth": 1.5, "labelFontSize": 17.5, "labelColor": "#000", "labelOffset": 11, "columnPadding": 32, "padding": 3, "fillColor": "#ffffff", "strokeColor": "#cccccc", "cornerRadius": 4, "gridAlign": "all"}}
  }
 },
 {
  "width": 551, "height": 109,
  "title": {"text": "Foreign NUMA"},
  "data": {"name": "F"},
  "mark": {"type": "line", "strokeWidth": 1.5, "clip": true},
  "encoding": {
   "x": {"field": "t", "type": "quantitative", "scale": {"domain": [0, 1515], "nice": false, "zero": false}, "axis": {"values": [0,200,400,600,800,1000,1200,1400], "format": "d", "title": "Elapsed Time (s)", "labelPadding": 3, "titlePadding": 1}},
   "y": {"field": "v", "type": "quantitative", "scale": {"domain": [0, 1.09], "nice": false}, "axis": {"values": [0,0.2,0.4,0.6,0.8,1], "labelExpr": "datum.value == 0 ? '0' : (datum.value == 1 ? '1' : '')", "title": "CPU load", "titlePadding": 6}},
   "color": {"field": "s", "type": "nominal", "scale": {"domain": ["Max","Mean","Min"], "range": ["#ff0000","#008000","#0000ff"]}, "legend": null},
   "strokeDash": {"field": "s", "type": "nominal", "scale": {"domain": ["Max","Mean","Min"], "range": [[1,0],[5,2.5],[1.2,1.8]]}, "legend": null}
  }
 }
],
"spacing": 22,
"resolve": {"scale": {"color": "independent", "strokeDash": "independent"}, "legend": {"color": "independent", "strokeDash": "independent"}}
}
